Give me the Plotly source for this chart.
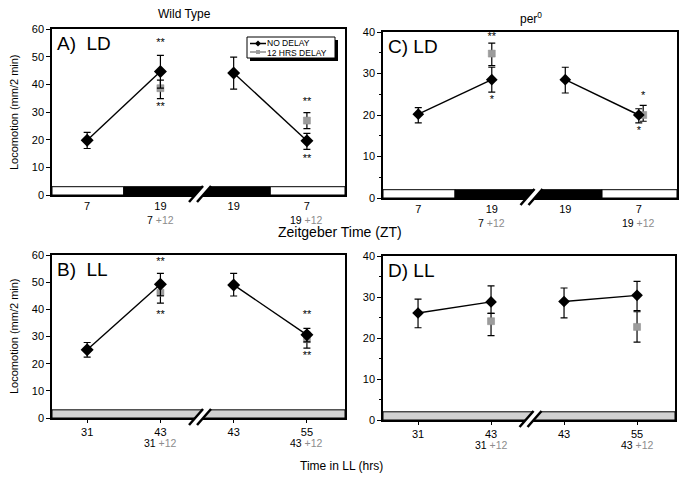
import plotly.graph_objects as go

W, H = 684, 480
FONT = "Liberation Sans, Arial, Helvetica, sans-serif"

# ---------------- data ----------------
x_pos = [0, 1, 2, 3]
ld_tick_main = ["7", "19", "19", "7"]
ld_tick_sub = ["", "7 +12", "", "19 +12"]
ll_tick_main = ["31", "43", "43", "55"]
ll_tick_sub = ["", "31 +12", "", "43 +12"]

# Panel A: Wild type, LD
A_nd = [19.8, 44.6, 44.1, 19.6]
A_nd_hi = [22.6, 50.5, 49.8, 22.3]
A_nd_lo = [16.8, 38.6, 38.3, 16.5]
A_gd_x = [1, 3]
A_gd = [38.6, 26.9]
A_gd_hi = [41.5, 29.8]
A_gd_lo = [34.8, 24.0]
A_star_x = [1, 1, 3, 3]
A_star_y = [55.0, 31.8, 33.5, 12.9]
A_star_t = ["**", "**", "**", "**"]

# Panel B: Wild type, LL
B_nd = [25.1, 49.2, 49.0, 30.6]
B_nd_hi = [27.8, 53.2, 53.2, 33.0]
B_nd_lo = [22.4, 45.0, 44.9, 28.0]
B_gd_x = [1, 3]
B_gd = [46.1, 29.0]
B_gd_hi = [48.5, 31.5]
B_gd_lo = [42.3, 25.7]
B_star_x = [1, 1, 3, 3]
B_star_y = [57.3, 37.9, 37.7, 22.6]
B_star_t = ["**", "**", "**", "**"]

# Panel C: per0, LD
C_nd = [20.2, 28.5, 28.5, 20.0]
C_nd_hi = [21.8, 31.5, 31.5, 21.5]
C_nd_lo = [18.1, 25.5, 25.3, 18.1]
C_gd_x = [1, 3.06]
C_gd = [34.8, 20.0]
C_gd_hi = [37.3, 22.3]
C_gd_lo = [31.9, 18.5]
C_star_x = [1, 1, 3.06, 3.0]
C_star_y = [38.7, 23.6, 24.4, 16.2]
C_star_t = ["**", "*", "*", "*"]

# Panel D: per0, LL
D_nd = [26.1, 28.8, 28.9, 30.4]
D_nd_hi = [29.5, 32.7, 32.2, 33.8]
D_nd_lo = [22.5, 26.0, 24.9, 26.7]
D_gd_x = [1, 3]
D_gd = [24.1, 22.7]
D_gd_hi = [26.0, 26.4]
D_gd_lo = [20.6, 19.0]
D_star_x = []
D_star_y = []
D_star_t = []

# ---------------- layout helpers ----------------
def PX(px):
    return px / W


def PY(py):
    return 1 - py / H


XR = [-0.48, 3.52]
panels = {
    "A": dict(dx=(52, 345), dy=(29, 195), ymax=60, dtick=10, ld=True,
              nd=A_nd, hi=A_nd_hi, lo=A_nd_lo, gx=A_gd_x, g=A_gd, ghi=A_gd_hi, glo=A_gd_lo,
              sx=A_star_x, sy=A_star_y, st=A_star_t, label="A)  LD", ms=10, minor=False),
    "C": dict(dx=(383, 677), dy=(32, 198), ymax=40, dtick=10, ld=True,
              nd=C_nd, hi=C_nd_hi, lo=C_nd_lo, gx=C_gd_x, g=C_gd, ghi=C_gd_hi, glo=C_gd_lo,
              sx=C_star_x, sy=C_star_y, st=C_star_t, label="C) LD", ms=9, minor=True),
    "B": dict(dx=(52, 345), dy=(255, 418), ymax=60, dtick=10, ld=False,
              nd=B_nd, hi=B_nd_hi, lo=B_nd_lo, gx=B_gd_x, g=B_gd, ghi=B_gd_hi, glo=B_gd_lo,
              sx=B_star_x, sy=B_star_y, st=B_star_t, label="B)  LL", ms=10, minor=False),
    "D": dict(dx=(383, 675), dy=(256, 420), ymax=40, dtick=10, ld=False,
              nd=D_nd, hi=D_nd_hi, lo=D_nd_lo, gx=D_gd_x, g=D_gd, ghi=D_gd_hi, glo=D_gd_lo,
              sx=D_star_x, sy=D_star_y, st=D_star_t, label="D) LL", ms=9, minor=True),
}

fig = go.Figure()
shapes = []
annotations = []

order = ["A", "C", "B", "D"]
for i, key in enumerate(order):
    p = panels[key]
    n = i + 1
    xa = "x" if n == 1 else f"x{n}"
    ya = "y" if n == 1 else f"y{n}"
    xl = "xaxis" if n == 1 else f"xaxis{n}"
    yl = "yaxis" if n == 1 else f"yaxis{n}"

    # line with break between the two halves
    lx = x_pos[:2] + [None] + x_pos[2:]
    ly = p["nd"][:2] + [None] + p["nd"][2:]
    fig.add_trace(go.Scatter(x=lx, y=ly, mode="lines", line=dict(color="black", width=1.4),
                             xaxis=xa, yaxis=ya, showlegend=False, hoverinfo="skip"))
    # grey (12 h delay) points
    fig.add_trace(go.Scatter(
        x=p["gx"], y=p["g"], mode="markers",
        marker=dict(symbol="square", size=7, color="#9c9c9c", line=dict(color="#8a8a8a", width=0.5)),
        error_y=dict(type="data", symmetric=False,
                     array=[h - v for h, v in zip(p["ghi"], p["g"])],
                     arrayminus=[v - l for l, v in zip(p["glo"], p["g"])],
                     color="black", thickness=1.2, width=3.5),
        xaxis=xa, yaxis=ya, showlegend=False))
    # black (no delay) points
    fig.add_trace(go.Scatter(
        x=x_pos, y=p["nd"], mode="markers",
        marker=dict(symbol="diamond", size=p["ms"], color="black"),
        error_y=dict(type="data", symmetric=False,
                     array=[h - v for h, v in zip(p["hi"], p["nd"])],
                     arrayminus=[v - l for l, v in zip(p["lo"], p["nd"])],
                     color="black", thickness=1.2, width=3.5),
        xaxis=xa, yaxis=ya, showlegend=False))
    # significance stars
    if p["sx"]:
        fig.add_trace(go.Scatter(x=p["sx"], y=p["sy"], mode="text", text=p["st"],
                                 textfont=dict(size=11, color="black", family=FONT),
                                 xaxis=xa, yaxis=ya, showlegend=False, hoverinfo="skip"))

    # tick text (second line "+12" drawn as annotation beneath the tick label)
    mains = ld_tick_main if p["ld"] else ll_tick_main
    subs = ld_tick_sub if p["ld"] else ll_tick_sub
    for xv, s in zip(x_pos, subs):
        if s:
            base, plus = s.split(" ")
            annotations.append(dict(
                x=xv, xref=xa, y=PY(p["dy"][1] + 25), yref="paper",
                text=f"{base} <span style='color:#8c8c8c'>{plus}</span>",
                font=dict(size=10.5, family=FONT, color="black")))

    x0p, x1p = PX(p["dx"][0]), PX(p["dx"][1])
    y1p, y0p = PY(p["dy"][0]), PY(p["dy"][1])
    fig.update_layout(**{
        xl: dict(domain=[x0p, x1p], range=XR, anchor=ya, tickvals=x_pos, ticktext=mains,
                 showline=True, mirror=True, linecolor="black", linewidth=1.5,
                 ticks="" if p["ld"] else "outside", ticklen=3, tickcolor="black",
                 showgrid=False, zeroline=False, automargin=False,
                 tickfont=dict(size=11, family=FONT, color="black")),
        yl: dict(domain=[y0p, y1p], range=[0, p["ymax"]], anchor=xa, dtick=p["dtick"],
                 showline=True, mirror=True, linecolor="black", linewidth=1.5,
                 ticks="outside", ticklen=4, tickcolor="black", showgrid=False, zeroline=False,
                 automargin=False,
                 tickfont=dict(size=11, family=FONT, color="black"),
                 minor=dict(ticks="outside", ticklen=2, dtick=5, tickcolor="black") if p["minor"] else None),
    })

    # light/dark bar at bottom
    bh = p["ymax"] * 0.05
    if p["ld"]:
        segs = [(XR[0], 0.5, "white"), (0.5, 2.5, "black"), (2.5, XR[1], "white")]
        for a, b, c in segs:
            shapes.append(dict(type="rect", xref=xa, yref=ya, x0=a, x1=b, y0=0, y1=bh,
                               fillcolor=c, line=dict(color="black", width=1), layer="above"))
    else:
        shapes.append(dict(type="rect", xref=xa, yref=ya, x0=XR[0], x1=XR[1], y0=0, y1=bh,
                           fillcolor="#d2d2d2", line=dict(color="black", width=1), layer="above"))

    # axis break "//"
    frac = (1.5 - XR[0]) / (XR[1] - XR[0])
    cx = p["dx"][0] + frac * (p["dx"][1] - p["dx"][0]) + 3
    yb = p["dy"][1] + 7
    yt = p["dy"][1] - 9
    shapes.append(dict(type="path", xref="paper", yref="paper",
                       path=f"M {PX(cx-11)} {PY(yb)} L {PX(cx+3)} {PY(yt)} L {PX(cx+11)} {PY(yt)} L {PX(cx-3)} {PY(yb)} Z",
                       fillcolor="white", line=dict(width=0), layer="above"))
    for off in (-11, -3):
        shapes.append(dict(type="line", xref="paper", yref="paper",
                           x0=PX(cx + off), y0=PY(yb), x1=PX(cx + off + 14), y1=PY(yt),
                           line=dict(color="black", width=2.5), layer="above"))

    # panel label
    annotations.append(dict(x=PX(p["dx"][0] + 3), y=PY(p["dy"][0] + 14), xref="paper", yref="paper",
                            text=p["label"], showarrow=False, xanchor="left", yanchor="middle",
                            font=dict(size=19, family=FONT, color="black")))

# titles and axis titles
annotations += [
    dict(x=PX(184), y=PY(14), text="Wild Type", font=dict(size=12, family=FONT, color="black")),
    dict(x=PX(531), y=PY(18), text="per<sup>0</sup>", font=dict(size=12, family=FONT, color="black")),
    dict(x=PX(340), y=PY(232), text="Zeitgeber Time (ZT)", font=dict(size=14, family=FONT, color="black")),
    dict(x=PX(341), y=PY(466), text="Time in LL (hrs)", font=dict(size=12, family=FONT, color="black")),
    dict(x=PX(14), y=PY(112), text="Locomotion (mm/2 min)", textangle=-90,
         font=dict(size=11, family=FONT, color="black")),
    dict(x=PX(14), y=PY(336), text="Locomotion (mm/2 min)", textangle=-90,
         font=dict(size=11, family=FONT, color="black")),
]

# legend (drawn by hand, with drop shadow)
lx0, lx1, ly0, ly1 = 247, 335, 37, 58
shapes += [
    dict(type="rect", xref="paper", yref="paper", x0=PX(lx0 + 3), x1=PX(lx1 + 3), y0=PY(ly1 + 3), y1=PY(ly0 + 3),
         fillcolor="black", line=dict(width=0), layer="above"),
    dict(type="rect", xref="paper", yref="paper", x0=PX(lx0), x1=PX(lx1), y0=PY(ly1), y1=PY(ly0),
         fillcolor="white", line=dict(color="black", width=1), layer="above"),
    dict(type="line", xref="paper", yref="paper", x0=PX(250), x1=PX(266), y0=PY(43.5), y1=PY(43.5),
         line=dict(color="black", width=1.5), layer="above"),
    dict(type="path", xref="paper", yref="paper",
         path=f"M {PX(258)} {PY(40.5)} L {PX(261)} {PY(43.5)} L {PX(258)} {PY(46.5)} L {PX(255)} {PY(43.5)} Z",
         fillcolor="black", line=dict(width=0), layer="above"),
    dict(type="line", xref="paper", yref="paper", x0=PX(250), x1=PX(266), y0=PY(52), y1=PY(52),
         line=dict(color="#8c8c8c", width=1.5), layer="above"),
    dict(type="rect", xref="paper", yref="paper", x0=PX(256), x1=PX(260), y0=PY(54), y1=PY(50),
         fillcolor="#9c9c9c", line=dict(width=0), layer="above"),
]
annotations += [
    dict(x=PX(266), y=PY(43.5), text="NO DELAY", xanchor="left", borderpad=0,
         font=dict(size=8.5, family=FONT, color="black")),
    dict(x=PX(266), y=PY(52.5), text="12 HRS DELAY", xanchor="left", borderpad=0,
         font=dict(size=8.5, family=FONT, color="black")),
]
for a in annotations:
    a.setdefault("xref", "paper")
    a.setdefault("yref", "paper")
    a.setdefault("showarrow", False)
    a.setdefault("xanchor", "center")
    a.setdefault("yanchor", "middle")

fig.update_layout(width=W, height=H, margin=dict(l=0, r=0, t=0, b=0, pad=0, autoexpand=False),
                  paper_bgcolor="white", plot_bgcolor="white",
                  shapes=shapes, annotations=annotations, showlegend=False,
                  font=dict(family=FONT, color="black"))

fig.write_html("out.html", config={"displayModeBar": False},
               post_script="document.body.style.margin='0px';")
